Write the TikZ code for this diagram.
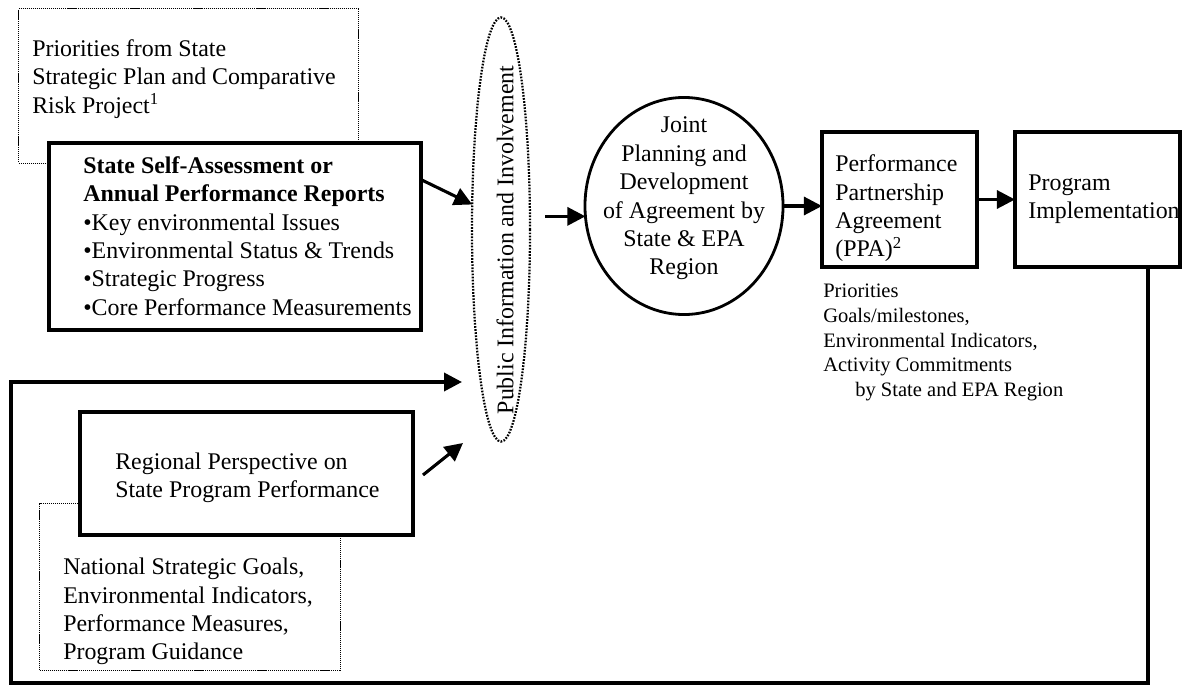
\documentclass[tikz,border=0pt]{standalone}
\usepackage{fontspec}
\setmainfont{Liberation Serif}
\usetikzlibrary{arrows.meta,shapes.geometric}

\tikzset{
  txt/.style={inner sep=0pt, align=left, font=\fontsize{17}{20.2}\selectfont},
  notetxt/.style={inner sep=0pt, align=left, font=\fontsize{14.6}{17.7}\selectfont},
  dotbox/.style={draw, line width=0.7pt, dash pattern=on 0.8pt off 0.6pt, inner sep=0pt, outer sep=0pt},
  thickbox/.style={draw, fill=white, line width=2.6pt, inner sep=0pt, outer sep=0pt},
  arr/.style={line width=2.2pt, -{Triangle[length=0.45cm,width=0.45cm]}}
}

\begin{document}
\begin{tikzpicture}[x=0.025cm,y=-0.025cm]
\useasboundingbox (0,0) rectangle (1182,690);
% state side
\node[dotbox, minimum width=8.475cm, minimum height=3.85cm] (prio) at (188.5,86) {};
\node[txt, anchor=west] (priotxt) at (32,79) {Priorities from State\\Strategic Plan and Comparative\\Risk Project\textsuperscript{1}};
\node[thickbox, minimum width=9.3cm, minimum height=4.675cm] (self) at (235,236.5) {};
\node[txt, anchor=west] (selftxt) at (83,236) {\textbf{State Self-Assessment or}\\\textbf{Annual Performance Reports}\\
  \textbullet Key environmental Issues\\\textbullet Environmental Status \& Trends\\
  \textbullet Strategic Progress\\\textbullet Core Performance Measurements};
% regional side
\node[dotbox, minimum width=7.5cm, minimum height=4.15cm] (nat) at (190,587) {};
\node[txt, anchor=west] (nattxt) at (63,611.5) {National Strategic Goals,\\Environmental Indicators,\\Performance Measures,\\Program Guidance};
\node[thickbox, minimum width=8.325cm, minimum height=3.075cm] (reg) at (246.5,473.5) {};
\node[txt, anchor=west] (regtxt) at (115,477.5) {Regional Perspective on\\State Program Performance};
% public involvement
\node[ellipse, draw, line width=1.6pt, dash pattern=on 1.2pt off 1pt, minimum width=1.45cm, minimum height=10.6cm, inner sep=0pt, outer sep=0pt] (pub) at (501,229.5) {};
\node[txt, rotate=90] (pubtxt) at (505,240) {Public Information and Involvement};
% agreement
\node[ellipse, draw, line width=2pt, minimum width=4.95cm, minimum height=5.425cm, inner sep=0pt, outer sep=0pt] (joint) at (684,206) {};
\node[txt, align=center] (jointtxt) at (684,198.5) {Joint\\Planning and\\Development\\of Agreement by\\State \& EPA\\Region};
\node[thickbox, minimum width=3.875cm, minimum height=3.375cm] (ppa) at (899.5,199.5) {};
\node[txt, anchor=west] (ppatxt) at (835,208.5) {Performance\\Partnership\\Agreement\\(PPA)\textsuperscript{2}};
\node[notetxt, anchor=west] (ppanote) at (823,342.5) {Priorities\\Goals/milestones,\\Environmental Indicators,\\Activity Commitments\\\hspace*{0.8cm}by State and EPA Region};
\node[txt, anchor=west] (progtxt) at (1028,199) {Program\\Implementation};
\node[thickbox, fill=none, minimum width=4.125cm, minimum height=3.375cm] (prog) at (1097.5,199.5) {};
% connectors
\coordinate (regout) at (423,475);
\coordinate (regin) at (463,443);
\coordinate (fbtop) at (1148,267);
\coordinate (fbcorner) at (11,683);
\coordinate (fbin) at (462,382);
\draw[arr] (self.17.7) -- (pub.139);
\draw[arr] (regout) -- (regin);
\draw[arr, shorten <=0.375cm] (pub.east |- joint.186) -- (joint.186);
\draw[arr] (joint.east) -- (joint.east -| ppa.west);
\draw[arr] (ppa) -- (prog);
\draw[arr, line width=2.6pt] (fbtop) |- (fbcorner) |- (fbin);
\end{tikzpicture}
\end{document}
